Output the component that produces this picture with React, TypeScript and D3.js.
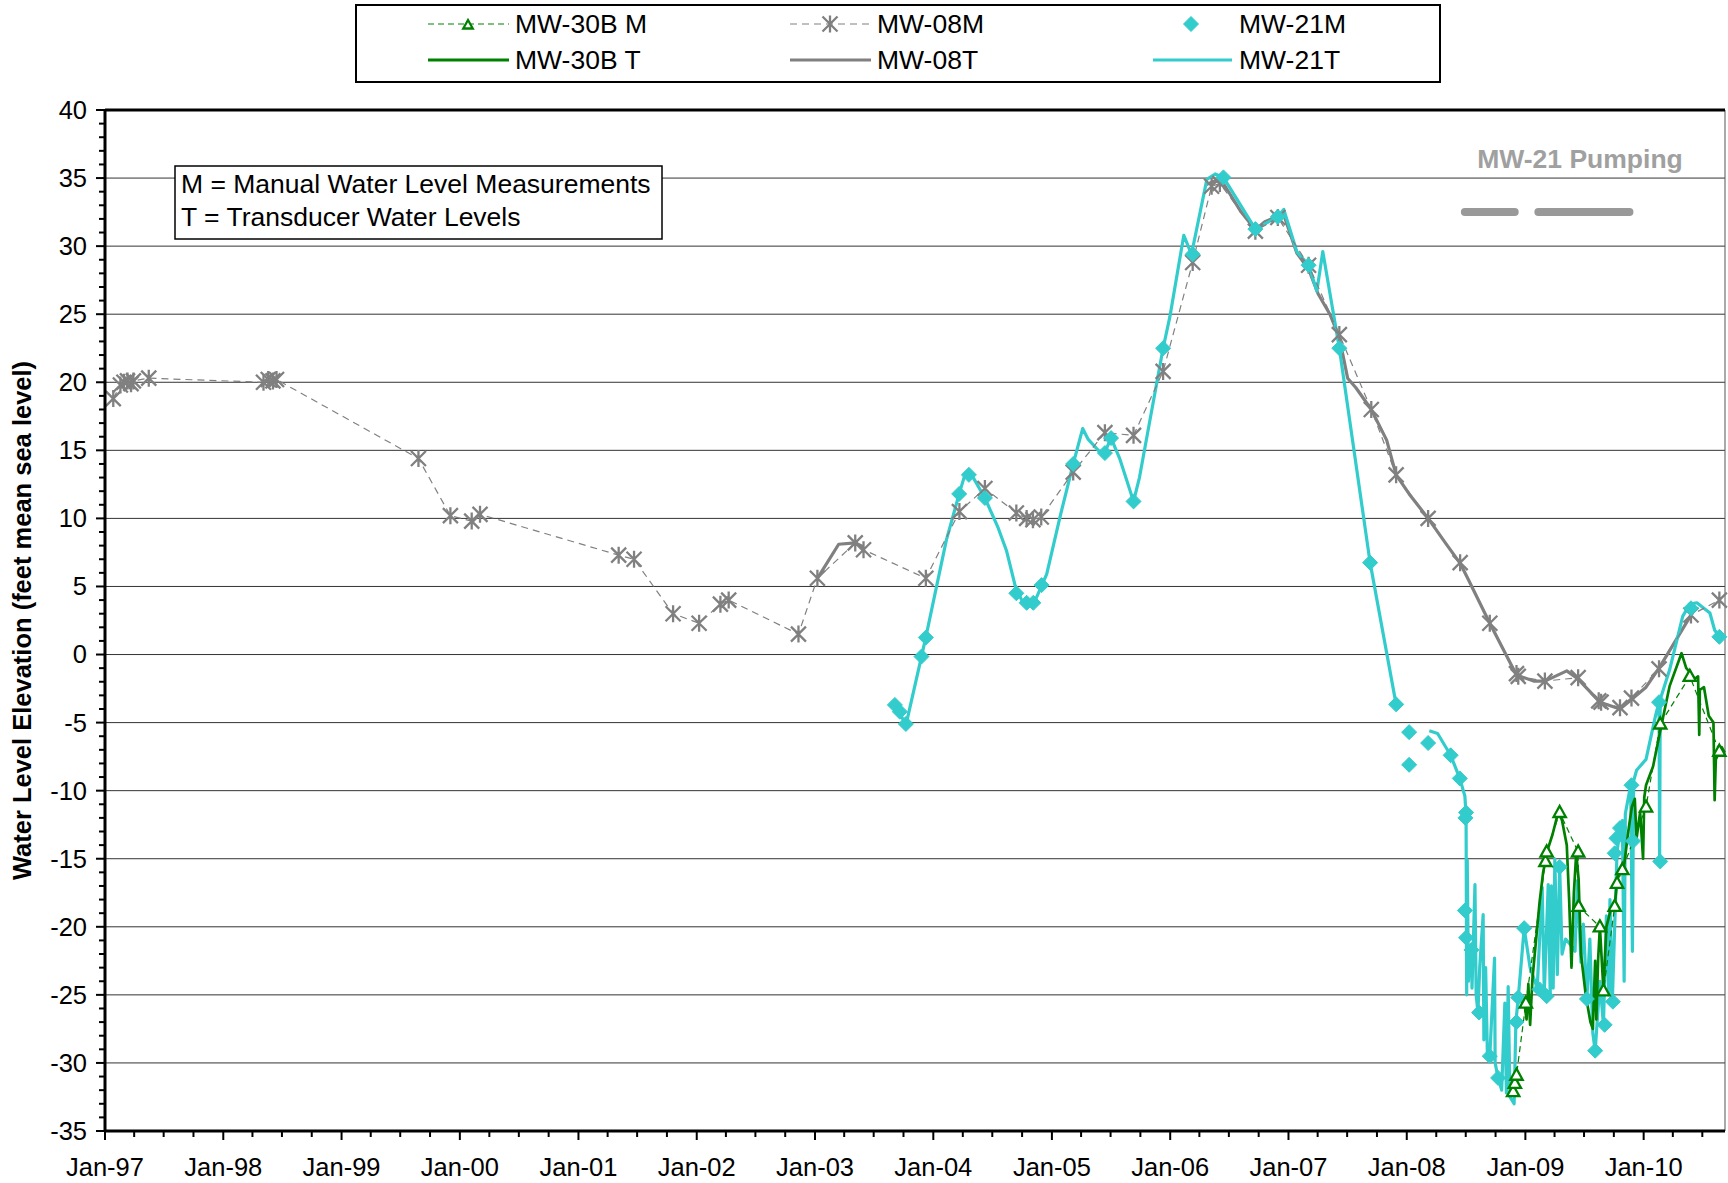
import React from "react";
import * as d3 from "d3";

// ---- data: [decimal year, water level elevation (ft msl)] ----
const mw08M: [number, number][] = [
  [1997.07, 18.8], [1997.13, 19.8], [1997.16, 20.0], [1997.19, 20.1], [1997.22, 19.9], [1997.24, 20.1],
  [1997.37, 20.3], [1998.34, 20.0], [1998.38, 20.2], [1998.42, 20.1], [1998.45, 20.2],
  [1999.65, 14.4], [1999.92, 10.2], [2000.1, 9.8], [2000.17, 10.3], [2001.34, 7.3], [2001.47, 7.0],
  [2001.8, 3.0], [2002.02, 2.3], [2002.2, 3.7], [2002.27, 4.0], [2002.86, 1.5], [2003.02, 5.6],
  [2003.34, 8.2], [2003.41, 7.7], [2003.937, 5.6], [2004.22, 10.5], [2004.435, 12.2], [2004.7, 10.4],
  [2004.787, 10.0], [2004.84, 9.9], [2004.91, 10.1], [2005.18, 13.4], [2005.448, 16.3], [2005.69, 16.1],
  [2005.94, 20.8], [2006.19, 28.8], [2006.35, 34.4], [2006.42, 34.6], [2006.72, 31.1], [2006.91, 32.1],
  [2007.17, 28.6], [2007.43, 23.5], [2007.7, 18.0], [2007.91, 13.2], [2008.18, 10.0], [2008.45, 6.75],
  [2008.7, 2.3], [2008.925, -1.4], [2008.94, -1.6], [2009.165, -1.95], [2009.446, -1.7], [2009.62, -3.4],
  [2009.64, -3.5], [2009.8, -3.9], [2009.897, -3.2], [2010.13, -1.05], [2010.4, 2.9], [2010.64, 4.0],
];

const mw08T: ([number, number] | null)[] = [
  [2003.02, 5.6], [2003.2, 8.1], [2003.34, 8.2], [2003.41, 7.9],
  null,
  [2006.3, 34.5], [2006.38, 34.8], [2006.45, 34.6], [2006.6, 32.5], [2006.72, 31.2], [2006.8, 31.8],
  [2006.91, 32.2], [2006.96, 32.3], [2007.07, 29.5], [2007.17, 28.3], [2007.25, 26.5], [2007.35, 25.0],
  [2007.43, 23.3], [2007.5, 20.3], [2007.57, 19.6], [2007.7, 18.0], [2007.83, 15.75], [2007.91, 13.2],
  [2008.02, 11.8], [2008.18, 10.0], [2008.33, 8.15], [2008.45, 6.7], [2008.52, 5.5], [2008.7, 2.3],
  [2008.925, -1.5], [2009.07, -1.95], [2009.165, -1.95], [2009.35, -1.2], [2009.446, -1.8],
  [2009.63, -3.5], [2009.8, -4.0], [2009.897, -3.3], [2010.02, -2.4], [2010.13, -1.0], [2010.4, 2.9],
];

const mw21M: [number, number][] = [
  [2003.675, -3.7], [2003.717, -4.2], [2003.768, -5.1], [2003.9, -0.15], [2003.937, 1.25],
  [2004.218, 11.8], [2004.3, 13.2], [2004.435, 11.5], [2004.7, 4.5], [2004.787, 3.8], [2004.843, 3.8],
  [2004.913, 5.1], [2005.18, 14.0], [2005.448, 14.8], [2005.5, 15.9], [2005.69, 11.25], [2005.94, 22.5],
  [2006.19, 29.4], [2006.45, 35.05], [2006.72, 31.25], [2006.91, 32.15], [2007.17, 28.6], [2007.43, 22.5],
  [2007.69, 6.75], [2007.91, -3.66], [2008.02, -5.7], [2008.02, -8.1], [2008.18, -6.5], [2008.37, -7.4],
  [2008.447, -9.1], [2008.5, -11.6], [2008.495, -12.0], [2008.49, -18.8], [2008.5, -20.8],
  [2008.545, -21.7], [2008.61, -26.3], [2008.7, -29.5], [2008.77, -31.1], [2008.925, -27.0],
  [2008.94, -25.2], [2008.99, -20.1], [2009.12, -24.6], [2009.18, -25.1], [2009.29, -15.6],
  [2009.52, -25.3], [2009.59, -29.1], [2009.67, -27.2], [2009.74, -25.5], [2009.755, -14.6],
  [2009.77, -13.5], [2009.8, -12.75], [2009.897, -9.6], [2009.91, -13.7], [2010.13, -3.5],
  [2010.14, -15.2], [2010.4, 3.4], [2010.64, 1.3],
];

const mw21T: ([number, number] | null)[] = [
  [2003.647, -3.7], [2003.7, -4.0], [2003.768, -5.2], [2003.9, -0.15], [2003.94, 1.4], [2004.11, 8.4],
  [2004.218, 11.8], [2004.266, 13.2], [2004.31, 13.4], [2004.435, 11.5], [2004.547, 9.3], [2004.618, 7.6],
  [2004.69, 5.06], [2004.75, 3.9], [2004.84, 3.6], [2004.956, 5.9], [2005.068, 10.1], [2005.18, 14.0],
  [2005.26, 16.6], [2005.307, 15.8], [2005.434, 14.6], [2005.5, 15.9], [2005.575, 14.35], [2005.69, 11.25],
  [2005.74, 13.0], [2005.94, 22.5], [2005.997, 24.8], [2006.115, 30.8], [2006.18, 29.4], [2006.31, 34.9],
  [2006.38, 35.3], [2006.45, 35.05], [2006.72, 31.25], [2006.91, 32.15], [2006.96, 32.7], [2007.07, 29.6],
  [2007.17, 28.6], [2007.24, 26.7], [2007.29, 29.6], [2007.43, 22.5], [2007.69, 6.75], [2007.91, -3.66],
  null,
  [2008.19, -5.6], [2008.26, -5.8], [2008.37, -7.4], [2008.447, -9.1], [2008.49, -10.4], [2008.5, -11.8],
  [2008.505, -25.0], [2008.51, -15.1], [2008.52, -24.0], [2008.53, -21.5], [2008.545, -21.7],
  [2008.55, -24.5], [2008.575, -16.9], [2008.585, -25.0], [2008.6, -26.3], [2008.615, -23.0],
  [2008.644, -19.1], [2008.65, -28.3], [2008.665, -23.0], [2008.68, -29.5], [2008.7, -29.5],
  [2008.74, -22.3], [2008.745, -30.0], [2008.77, -31.1], [2008.8, -32.0], [2008.827, -25.6],
  [2008.84, -32.2], [2008.855, -24.4], [2008.87, -32.5], [2008.905, -33.0], [2008.92, -27.0],
  [2008.94, -25.2], [2008.99, -20.1], [2009.04, -23.0], [2009.1, -24.5], [2009.142, -17.1],
  [2009.16, -24.8], [2009.193, -16.9], [2009.21, -25.0], [2009.22, -17.0], [2009.235, -24.5],
  [2009.249, -15.0], [2009.27, -23.5], [2009.29, -15.6], [2009.31, -22.0], [2009.34, -20.9],
  [2009.38, -21.3], [2009.42, -21.8], [2009.44, -16.6], [2009.47, -22.6], [2009.49, -19.8],
  [2009.52, -25.3], [2009.545, -20.9], [2009.57, -27.8], [2009.59, -29.1], [2009.615, -26.0],
  [2009.63, -24.0], [2009.66, -27.2], [2009.685, -19.2], [2009.705, -25.0], [2009.715, -18.0],
  [2009.735, -25.5], [2009.775, -14.5], [2009.8, -12.8], [2009.82, -12.2], [2009.835, -24.0],
  [2009.845, -11.7], [2009.89, -9.6], [2009.905, -21.8], [2009.915, -9.3], [2009.94, -8.5],
  [2010.02, -7.7], [2010.1, -4.5], [2010.13, -3.5], [2010.135, -15.2], [2010.14, -3.3],
  [2010.22, -1.1], [2010.33, 2.8], [2010.39, 3.7], [2010.45, 3.8], [2010.56, 3.05], [2010.6, 1.8],
  [2010.64, 1.3],
];

const mw30bM: [number, number][] = [
  [2008.897, -32.1], [2008.911, -31.5], [2008.925, -30.9], [2009.004, -25.6], [2009.17, -15.2],
  [2009.18, -14.5], [2009.29, -11.6], [2009.446, -14.5], [2009.45, -18.5], [2009.63, -20.0],
  [2009.66, -24.7], [2009.755, -18.5], [2009.775, -16.8], [2009.82, -15.8], [2010.02, -11.2],
  [2010.14, -5.1], [2010.39, -1.6], [2010.64, -7.1],
];

const mw30bT: [number, number][] = [
  [2008.96, -25.5], [2008.99, -25.5], [2009.01, -26.8], [2009.025, -24.2], [2009.04, -27.2],
  [2009.06, -23.8], [2009.09, -21.0], [2009.12, -18.2], [2009.15, -16.0], [2009.19, -14.3],
  [2009.23, -13.2], [2009.28, -11.5], [2009.31, -12.2], [2009.35, -14.0], [2009.37, -18.0],
  [2009.39, -23.0], [2009.41, -17.5], [2009.43, -14.6], [2009.45, -16.5], [2009.47, -22.0],
  [2009.51, -25.0], [2009.55, -27.0], [2009.57, -27.5], [2009.59, -22.5], [2009.6, -26.8],
  [2009.615, -22.4], [2009.63, -20.0], [2009.66, -24.7], [2009.685, -20.0], [2009.72, -18.8],
  [2009.755, -18.5], [2009.775, -16.7], [2009.8, -15.7], [2009.83, -15.8], [2009.87, -13.0],
  [2009.9, -11.2], [2009.925, -10.6], [2009.94, -13.5], [2009.97, -11.6], [2009.995, -15.0],
  [2010.005, -10.5], [2010.02, -9.6], [2010.08, -8.2], [2010.15, -5.2], [2010.22, -2.3],
  [2010.32, 0.1], [2010.36, -1.0], [2010.39, -1.3], [2010.43, -1.8], [2010.46, -1.6],
  [2010.47, -5.9], [2010.475, -2.6], [2010.51, -2.4], [2010.55, -4.5], [2010.59, -5.0],
  [2010.6, -10.7], [2010.61, -7.7], [2010.66, -6.8], [2010.685, -7.2],
];

// MW-21 pumping periods [start, end] in decimal years, shown at a fixed elevation
const pumpingPeriods: [number, number][] = [[2008.49, 2008.91], [2009.11, 2009.88]];
const pumpingLevel = 32.5;

const yTicks = d3.range(-35, 41, 5);
const legendRows = [
  ["MW-30B M", "MW-08M", "MW-21M"],
  ["MW-30B T", "MW-08T", "MW-21T"],
];
const noteLines = ["M = Manual Water Level Measurements", "T = Transducer Water Levels"];

// ---- styling ----
const CYAN = "#33CCCC";
const GRAY = "#808080";
const GREEN = "#008000";
const FONT = "'Liberation Sans', Arial, Helvetica, sans-serif";

const W = 1728;
const H = 1183;
const M = { left: 105, right: 1725, top: 110, bottom: 1131 };

function toDate(y: number): Date {
  const Y = Math.floor(y);
  const a = Date.UTC(Y, 0, 1);
  const b = Date.UTC(Y + 1, 0, 1);
  return new Date(a + (y - Y) * (b - a));
}

const x = d3
  .scaleUtc()
  .domain([new Date(Date.UTC(1997, 0, 1)), new Date(Date.UTC(2010, 8, 9))])
  .range([M.left, M.right]);
const y = d3.scaleLinear().domain([-35, 40]).range([M.bottom, M.top]);

type Pt = [number, number] | null;
const line = d3
  .line<Pt>()
  .defined((d) => d != null)
  .x((d) => x(toDate((d as [number, number])[0])))
  .y((d) => y((d as [number, number])[1]));

const starPath = (s: number) =>
  `M${-s},${-s}L${s},${s}M${-s},${s}L${s},${-s}M0,${-s - 1}L0,${s + 1}`;
const diamondPath = (s: number) => `M0,${-s}L${s},0L0,${s}L${-s},0Z`;
const trianglePath = (s: number) => `M0,${-s}L${s * 0.95},${s * 0.7}L${-s * 0.95},${s * 0.7}Z`;

function Star({ cx, cy, s = 7.5 }: { cx: number; cy: number; s?: number }) {
  return <path d={starPath(s)} transform={`translate(${cx},${cy})`} stroke={GRAY} strokeWidth={2.3} fill="none" />;
}
function Diamond({ cx, cy, s = 7.5 }: { cx: number; cy: number; s?: number }) {
  return <path d={diamondPath(s)} transform={`translate(${cx},${cy})`} fill={CYAN} stroke={CYAN} strokeWidth={1} />;
}
function Triangle({ cx, cy, s = 6.5 }: { cx: number; cy: number; s?: number }) {
  return <path d={trianglePath(s)} transform={`translate(${cx},${cy})`} fill="#fff" stroke={GREEN} strokeWidth={2.3} />;
}

export default function App() {
  const yearTicks = d3.utcYear.range(x.domain()[0], d3.utcDay.offset(x.domain()[1], 1));
  const quarterTicks = d3.utcMonth.every(3)!.range(x.domain()[0], d3.utcDay.offset(x.domain()[1], 1));
  const minorY = d3.range(-35, 41, 1);
  const fmt = d3.utcFormat("%b-%y");

  const legendCols = [
    { lx0: 428, lx1: 509, mx: 468, tx: 515 },
    { lx0: 790, lx1: 871, mx: 830, tx: 877 },
    { lx0: 1153, lx1: 1232, mx: 1191, tx: 1239 },
  ];
  const legendY = [24, 60];

  return (
    <svg
      width={W}
      height={H}
      style={{ position: "fixed", left: 0, top: 0, background: "#fff" }}
      fontFamily={FONT}
    >
      <rect x={0} y={0} width={W} height={H} fill="#fff" />

      {/* horizontal grid */}
      {yTicks
        .filter((t) => t > -35 && t < 40)
        .map((t) => (
          <line key={t} x1={M.left} x2={M.right} y1={y(t)} y2={y(t)} stroke="#333" strokeWidth={1} />
        ))}

      {/* plot frame: right edge thin, top thick */}
      <line x1={M.right} x2={M.right} y1={M.top} y2={M.bottom} stroke="#555" strokeWidth={1} />
      <line x1={M.left} x2={M.right} y1={M.top} y2={M.top} stroke="#000" strokeWidth={3} />

      {/* pumping periods */}
      <text x={1580} y={168} textAnchor="middle" fontSize={26.5} fontWeight="bold" fill="#A0A0A0">
        MW-21 Pumping
      </text>
      {pumpingPeriods.map(([a, b], i) => (
        <line
          key={i}
          x1={x(toDate(a))}
          x2={x(toDate(b))}
          y1={y(pumpingLevel)}
          y2={y(pumpingLevel)}
          stroke="#999"
          strokeWidth={8}
          strokeLinecap="round"
        />
      ))}

      {/* transducer lines */}
      <path d={line(mw08T) ?? ""} fill="none" stroke={GRAY} strokeWidth={3.2} strokeLinejoin="round" />
      <path d={line(mw21T) ?? ""} fill="none" stroke={CYAN} strokeWidth={3.2} strokeLinejoin="round" />
      <path d={line(mw30bT) ?? ""} fill="none" stroke={GREEN} strokeWidth={2.7} strokeLinejoin="round" />

      {/* manual measurements */}
      <path d={line(mw08M) ?? ""} fill="none" stroke={GRAY} strokeWidth={1.2} strokeDasharray="7,5" />
      {mw08M.map((d, i) => (
        <Star key={i} cx={x(toDate(d[0]))} cy={y(d[1])} />
      ))}
      <path d={line(mw30bM) ?? ""} fill="none" stroke={GREEN} strokeWidth={1.2} strokeDasharray="6,4" />
      {mw21M.map((d, i) => (
        <Diamond key={i} cx={x(toDate(d[0]))} cy={y(d[1])} />
      ))}
      {mw30bM.map((d, i) => (
        <Triangle key={i} cx={x(toDate(d[0]))} cy={y(d[1])} />
      ))}

      {/* axes */}
      <line x1={M.left} x2={M.left} y1={M.top - 1} y2={M.bottom + 1} stroke="#000" strokeWidth={3} />
      <line x1={M.left - 1} x2={M.right} y1={M.bottom} y2={M.bottom} stroke="#000" strokeWidth={3} />
      {minorY.map((t) => (
        <line
          key={t}
          x1={M.left - (t % 5 === 0 ? 9 : 6)}
          x2={M.left}
          y1={y(t)}
          y2={y(t)}
          stroke="#000"
          strokeWidth={2}
        />
      ))}
      {yTicks.map((t) => (
        <text key={t} x={87} y={y(t)} dy="0.35em" textAnchor="end" fontSize={25.5} fill="#000">
          {t}
        </text>
      ))}
      {quarterTicks.map((d, i) => (
        <line
          key={i}
          x1={x(d)}
          x2={x(d)}
          y1={M.bottom}
          y2={M.bottom + (d.getUTCMonth() === 0 ? 9 : 6)}
          stroke="#000"
          strokeWidth={2}
        />
      ))}
      {yearTicks.map((d, i) => (
        <text key={i} x={x(d)} y={1167} dy="0.35em" textAnchor="middle" fontSize={25.5} fill="#000">
          {fmt(d)}
        </text>
      ))}
      <text
        transform={`translate(31,${(M.top + M.bottom) / 2}) rotate(-90)`}
        textAnchor="middle"
        fontSize={25.5}
        fontWeight="bold"
        fill="#000"
      >
        Water Level Elevation (feet mean sea level)
      </text>

      {/* note box */}
      <rect x={175} y={166} width={487} height={73} fill="#fff" stroke="#000" strokeWidth={1.5} />
      {noteLines.map((t, i) => (
        <text key={i} x={181} y={184 + i * 33} dy="0.35em" fontSize={26.5} fill="#000">
          {t}
        </text>
      ))}

      {/* legend */}
      <rect x={356} y={5} width={1084} height={77} fill="#fff" stroke="#000" strokeWidth={2} />
      {legendRows.map((row, r) =>
        row.map((label, c) => {
          const col = legendCols[c];
          const ly = legendY[r];
          let sample: React.ReactNode = null;
          if (r === 0 && c === 0)
            sample = (
              <g>
                <line x1={col.lx0} x2={col.lx1} y1={ly} y2={ly} stroke={GREEN} strokeWidth={1.2} strokeDasharray="6,4" />
                <Triangle cx={col.mx} cy={ly + 1} s={5} />
              </g>
            );
          else if (r === 0 && c === 1)
            sample = (
              <g>
                <line x1={col.lx0} x2={col.lx1} y1={ly} y2={ly} stroke={GRAY} strokeWidth={1.2} strokeDasharray="7,5" />
                <Star cx={col.mx} cy={ly} />
              </g>
            );
          else if (r === 0 && c === 2) sample = <Diamond cx={col.mx} cy={ly} />;
          else
            sample = (
              <line
                x1={col.lx0}
                x2={col.lx1}
                y1={ly}
                y2={ly}
                stroke={c === 0 ? GREEN : c === 1 ? GRAY : CYAN}
                strokeWidth={3}
              />
            );
          return (
            <g key={`${r}-${c}`}>
              {sample}
              <text x={col.tx} y={ly} dy="0.35em" fontSize={26.5} fill="#000">
                {label}
              </text>
            </g>
          );
        })
      )}
    </svg>
  );
}
